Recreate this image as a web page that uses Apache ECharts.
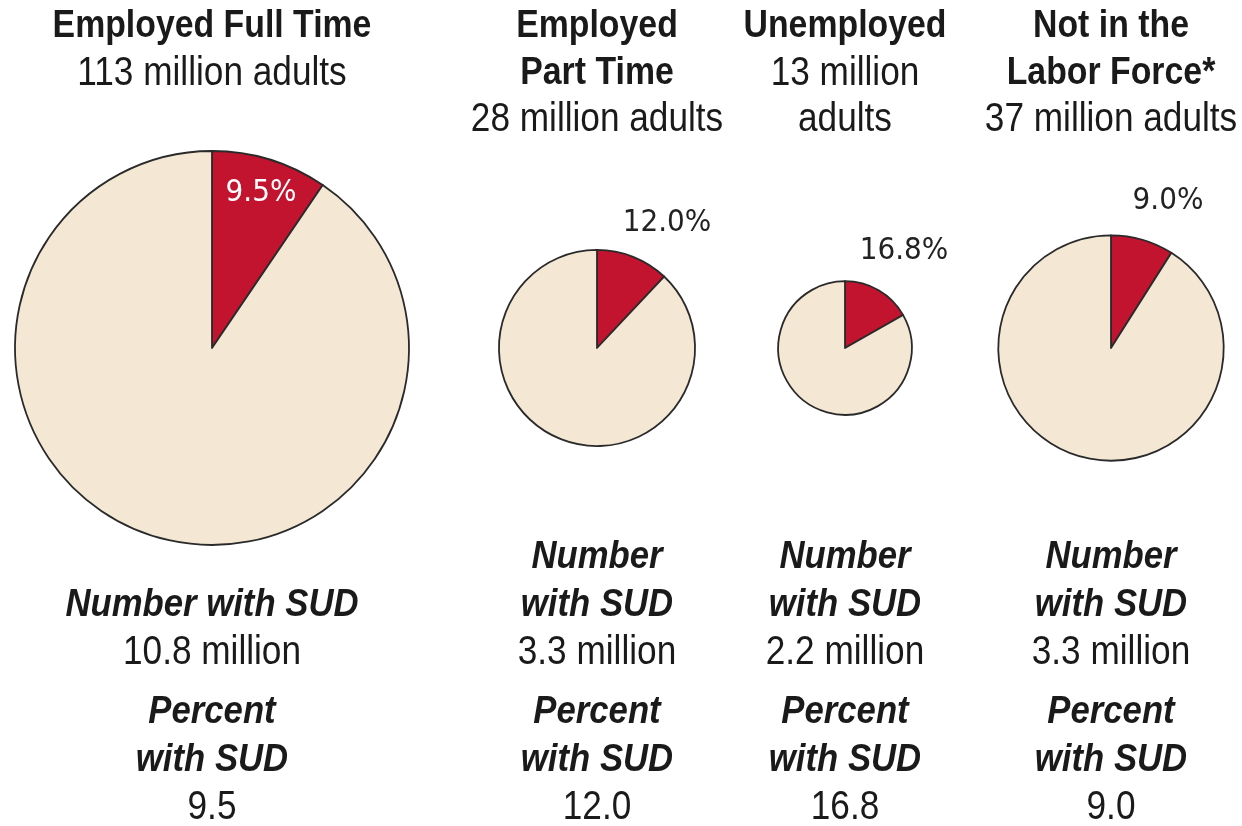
<!DOCTYPE html>
<html>
<head>
<meta charset="utf-8">
<script src="https://cdn.jsdelivr.net/npm/echarts@6/dist/echarts.min.js"></script>
<style>
  html, body { margin: 0; padding: 0; background: #ffffff; }
  #chart { width: 1242px; height: 826px; }
</style>
</head>
<body>
<div id="chart"></div>
<script>
// ---- data ----
const categories = ['Employed Full Time', 'Employed Part Time', 'Unemployed', 'Not in the Labor Force*'];
const titleLines = [['Employed Full Time'], ['Employed', 'Part Time'], ['Unemployed'], ['Not in the', 'Labor Force*']];
const adultsLines = [['113 million adults'], ['28 million adults'], ['13 million', 'adults'], ['37 million adults']];
const adultsMillions = [113, 28, 13, 37];
const sudMillions = [10.8, 3.3, 2.2, 3.3];
const sudPercent = [9.5, 12.0, 16.8, 9.0];
const numberLabelLines = [['Number with SUD'], ['Number', 'with SUD'], ['Number', 'with SUD'], ['Number', 'with SUD']];
const percentLabelLines = ['Percent', 'with SUD'];

// ---- layout / style ----
const FONT = "'Liberation Sans', Arial, Helvetica, sans-serif";
const LABEL_FONT = "'DejaVu Sans Condensed', 'Liberation Sans', sans-serif";
const colX = [212, 597, 845, 1111];
const pieCY = 348;
const radiusScale = 18.53; // px per sqrt(million adults)
const labelOffsets = [[49, -155], [70, -125], [59, -97], [57, -147]];
const labelColors = ['#ffffff', '#222222', '#222222', '#222222'];
const RED = '#c2142f';
const BEIGE = '#f4e8d4';
const TXT = '#1a1a1a';
const topLineY0 = 27, topLineStep = 46.5;
const numLastY = 653, botStep = 48, pctY0 = 712;

const styles = {
  b: { fontWeight: 'bold', fontStyle: 'normal', fontSize: 38, scaleX: 0.89 },
  r: { fontWeight: 'normal', fontStyle: 'normal', fontSize: 40, scaleX: 0.88 },
  bi: { fontWeight: 'bold', fontStyle: 'italic', fontSize: 39, scaleX: 0.89 }
};

function textEl(str, x, y, kind) {
  const s = styles[kind];
  return {
    type: 'text', x: x, y: y, scaleX: s.scaleX, silent: true,
    style: {
      text: str, fontFamily: FONT, fontSize: s.fontSize, fontWeight: s.fontWeight,
      fontStyle: s.fontStyle, fill: TXT, align: 'center', verticalAlign: 'middle'
    }
  };
}

const graphics = [];
categories.forEach((c, i) => {
  const head = titleLines[i].map(t => [t, 'b']).concat(adultsLines[i].map(t => [t, 'r']));
  head.forEach((h, k) => graphics.push(textEl(h[0], colX[i], topLineY0 + k * topLineStep, h[1])));
  const num = numberLabelLines[i].map(t => [t, 'bi']).concat([[sudMillions[i].toFixed(1) + ' million', 'r']]);
  num.forEach((h, k) => graphics.push(textEl(h[0], colX[i], numLastY - (num.length - 1 - k) * botStep, h[1])));
  const pct = percentLabelLines.map(t => [t, 'bi']).concat([[sudPercent[i].toFixed(1), 'r']]);
  pct.forEach((h, k) => graphics.push(textEl(h[0], colX[i], pctY0 + k * botStep, h[1])));
});

const series = categories.map((c, i) => ({
  type: 'pie',
  name: c,
  center: [colX[i], pieCY],
  radius: [0, radiusScale * Math.sqrt(adultsMillions[i])],
  startAngle: 90,
  clockwise: true,
  silent: true,
  avoidLabelOverlap: false,
  itemStyle: { borderColor: '#2a2a2a', borderWidth: 1.8 },
  labelLine: { show: false },
  labelLayout: function () {
    return { x: colX[i] + labelOffsets[i][0], y: pieCY + labelOffsets[i][1], align: 'center', verticalAlign: 'middle' };
  },
  data: [
    { value: sudPercent[i], name: 'With SUD', itemStyle: { color: RED },
      label: { show: true, position: 'outside', formatter: sudPercent[i].toFixed(1) + '%',
        fontFamily: LABEL_FONT, fontSize: 31, color: labelColors[i] } },
    { value: 100 - sudPercent[i], name: 'Without SUD', itemStyle: { color: BEIGE }, label: { show: false } }
  ]
}));

const chart = echarts.init(document.getElementById('chart'), null, { renderer: 'canvas' });
chart.setOption({
  backgroundColor: '#ffffff',
  animation: false,
  graphic: { elements: graphics },
  series: series
});
</script>
</body>
</html>
